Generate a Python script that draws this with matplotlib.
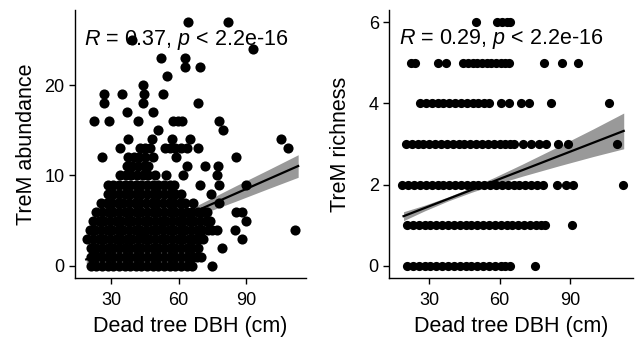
import numpy as np
import matplotlib
matplotlib.use("Agg")
from matplotlib import pyplot as plt

plt.rcParams['font.family'] = ['Liberation Sans', 'DejaVu Sans']
plt.rcParams['mathtext.fontset'] = 'custom'
plt.rcParams['mathtext.rm'] = 'Liberation Sans'
plt.rcParams['mathtext.it'] = 'Liberation Sans:italic'

# TreM abundance: level -> dead tree DBH values (cm)
abund = {
    0: [21, 23.5, 26, 28.5, 31, 33.5, 36, 38.5, 41, 43.5, 46, 48.5, 51, 53.5, 56, 58.5, 61, 63.5, 66, 75],
    1: [21, 23.5, 26, 28.5, 31, 33.5, 36, 38.5, 41, 43.5, 46, 48.5, 51, 53.5, 56, 58.5, 61, 63.5, 66, 68, 70],
    2: [21, 23.5, 26, 28.5, 31, 33.5, 36, 38.5, 41, 43.5, 46, 48.5, 51, 53.5, 56, 58.5, 61, 63.5, 66, 68.5, 79],
    3: [19.5, 22, 24.5, 27, 29.5, 32, 34.5, 37, 39.5, 42, 44.5, 47, 49.5, 52, 54.5, 57, 59.5, 62, 64.5, 67, 69, 71, 88],
    4: [20.5, 23, 25.5, 28, 30.5, 33, 35.5, 38, 40.5, 43, 45.5, 48, 50.5, 53, 55.5, 58, 60.5, 63, 65.5, 68, 70.5, 73, 75, 77, 85, 111.5],
    5: [22, 24.5, 27, 29.5, 32, 34.5, 37, 39.5, 42, 44.5, 47, 49.5, 52, 54.5, 57, 59.5, 62, 64.5, 67, 69.5, 72, 74, 90],
    6: [23.5, 26, 28.5, 31, 33.5, 36, 38.5, 41, 43.5, 46, 48.5, 51, 53.5, 56, 58.5, 61, 63.5, 66, 68.5, 70.5, 72.5, 85.5, 88],
    7: [25.5, 28, 30.5, 33, 35.5, 38, 40.5, 43, 45.5, 48, 50.5, 53, 55.5, 58, 60.5, 63, 66.5, 78],
    8: [28.5, 31, 33.5, 36, 38.5, 41, 43.5, 46, 48.5, 51, 53.5, 56, 58.5, 61, 74.5],
    9: [28.5, 31, 33.5, 36, 38.5, 41, 43.5, 46, 48.5, 51, 53.5, 56, 58, 69.5, 78, 90],
    10: [34, 36.5, 39, 41.5, 44, 46.5, 49.5, 54.5, 62, 77],
    11: [37, 39.5, 42, 44.5, 46.5, 63.5, 71.5, 77.5],
    12: [26, 37.5, 40, 42.5, 45, 48.5, 59, 85.5],
    13: [34, 43, 45, 47.5, 54, 56, 58.5, 61, 63.5, 68.5, 108.5],
    14: [37.5, 48, 57, 65, 105.5],
    15: [51, 79.5],
    16: [22.5, 29, 42, 57.5, 59.5, 61.5, 78],
    17: [37, 48.5],
    18: [27, 44, 68.5],
    19: [27, 35, 44.5, 53],
    20: [44],
    21: [55],
    22: [63, 69.5],
    23: [52, 63],
    24: [93],
    25: [39.5],
    27: [64, 82],
}

# TreM richness: level -> dead tree DBH values (cm)
rich = {
    0: [20.5, 23, 25.5, 28, 30.5, 33, 35.5, 38, 40.5, 43, 45.5, 48, 50.5, 53, 55.5, 58, 60.5, 62.5, 64.5, 75],
    1: [20.5, 23, 25.5, 28, 30.5, 33, 35.5, 38, 40.5, 43, 45.5, 48, 50.5, 53, 55.5, 58, 60.5, 63, 65.5, 68, 70.5, 73, 75.5, 77.5, 79.5, 91],
    2: [18.5, 21, 23.5, 26, 28.5, 31, 33.5, 36, 38.5, 41, 43.5, 46, 48.5, 51, 53.5, 56, 58.5, 61, 63.5, 66, 68.5, 71, 73.5, 76, 78.5, 84.5, 88.5, 91.5, 112.5],
    3: [20, 22.5, 25, 27.5, 30, 32.5, 35, 37.5, 40, 42.5, 45, 47.5, 50, 52.5, 55, 57.5, 60, 62.5, 64.5, 66, 70, 73.5, 77, 80, 85, 89, 110],
    4: [26, 28.5, 31, 33.5, 36, 38.5, 41, 43.5, 46, 48.5, 51, 53.5, 55.5, 60.5, 64, 69, 72.5, 82, 106.5],
    5: [22, 24, 33.5, 37, 44.5, 46.5, 48.5, 50.5, 52.5, 54.5, 56.5, 58.5, 60.5, 62.5, 64, 79, 86.5, 93.5],
    6: [50, 59, 61, 63, 64.5],
}

# regression lines (ends) and confidence half-widths
fit_x = [19, 113]
abund_fit = [0.7, 11.05]
rich_fit = [1.22, 3.32]
band_x = [19, 28, 38, 48, 58, 70, 85, 100, 113]
abund_hw = [0.5, 0.32, 0.25, 0.3, 0.42, 0.6, 0.85, 1.05, 1.25]
rich_hw = [0.11, 0.07, 0.05, 0.06, 0.09, 0.15, 0.24, 0.34, 0.44]

labels = [r"$\it{R}$ = 0.37, $\it{p}$ < 2.2e-16", r"$\it{R}$ = 0.29, $\it{p}$ < 2.2e-16"]

fig = plt.figure(figsize=(6.35, 3.41), dpi=100)
ax1 = fig.add_axes([0.118, 0.185, 0.364, 0.786])
ax2 = fig.add_axes([0.613, 0.185, 0.384, 0.786])


def panel(ax, data, fit, hw, label, ylabel, xlim, ylim, yticks, lab_y, msize, ypad):
    xs, ys = [], []
    for lev, vals in data.items():
        xs += vals
        ys += [lev] * len(vals)
    ax.plot(xs, ys, 'o', color='black', markersize=msize, markeredgewidth=0, zorder=2)
    bx = np.array(band_x)
    mid = np.interp(bx, fit_x, fit)
    ax.fill_between(bx, mid - np.array(hw), mid + np.array(hw), color='black', alpha=0.4, lw=0, zorder=3)
    ax.plot(fit_x, fit, color='black', lw=1.6, zorder=4)
    ax.text(min(xs) - 1.5, lab_y, label, fontsize=15.5, va='center', ha='left', zorder=5)
    ax.set_xlim(xlim)
    ax.set_ylim(ylim)
    ax.set_xticks([30, 60, 90])
    ax.set_yticks(yticks)
    ax.set_xlabel("Dead tree DBH (cm)", fontsize=15.5, labelpad=5)
    ax.set_ylabel(ylabel, fontsize=15.5, labelpad=ypad)
    for s in ['top', 'right']:
        ax.spines[s].set_visible(False)
    for s in ['left', 'bottom']:
        ax.spines[s].set_linewidth(1.0)
    ax.tick_params(length=4.5, width=1.0, labelsize=13, colors='black')
    ax.tick_params(axis='x', pad=6)
    ax.tick_params(axis='y', pad=3)


panel(ax1, abund, abund_fit, abund_hw, labels[0], "TreM abundance",
      (14, 116.5), (-1.35, 28.35), [0, 10, 20], 25.0, 7.3, 5.5)
panel(ax2, rich, rich_fit, rich_hw, labels[1], "TreM richness",
      (12.9, 117), (-0.3, 6.3), [0, 2, 4, 6], 5.58, 6.6, 12.5)

fig.savefig("out.png", dpi=100)
